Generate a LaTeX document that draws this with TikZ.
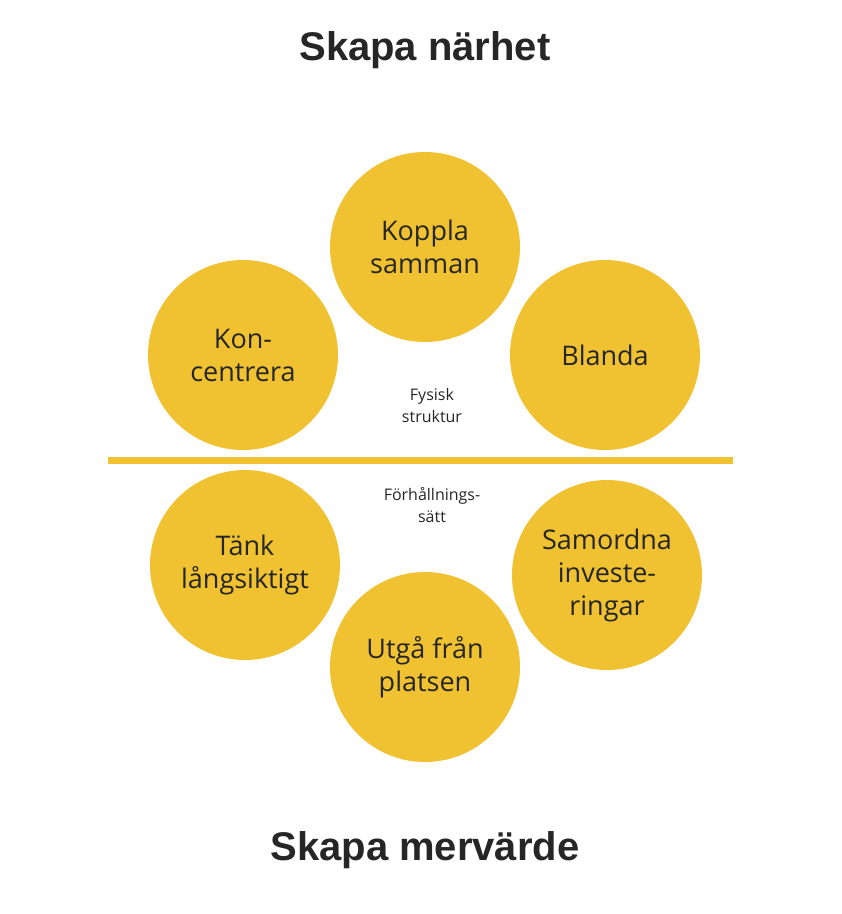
\documentclass[tikz,border=0pt]{standalone}
\usepackage{fontspec}
\setmainfont{Open Sans}
\newfontfamily\titlefont{Liberation Sans}
\definecolor{gold}{HTML}{F0C232}
\begin{document}
\begin{tikzpicture}[x=1pt,y=-1pt,
  circ/.style={circle,fill=gold,minimum size=190pt,inner sep=0pt,align=center,font=\fontsize{27}{33}\selectfont,text=black!85},
  small/.style={align=center,font=\fontsize{16}{22}\selectfont,text=black!85},
  ttl/.style={font=\titlefont\bfseries\fontsize{40}{44}\selectfont,text=black!85}]
\useasboundingbox (0,0) rectangle (842,914);
\node[ttl] (t1) at (425,50) {Skapa närhet};
\node[ttl] (t2) at (425,850) {Skapa mervärde};
\node[circ] (c1) at (425,247) {Koppla\\samman};
\node[circ] (c2) at (243,355) {Kon-\\centrera};
\node[circ] (c3) at (605,355) {Blanda};
\node[circ] (c4) at (245,565) {Tänk\\långsiktigt};
\node[circ] (c5) at (607,575) {Samordna\\investe-\\ringar};
\node[circ] (c6) at (425,667) {Utgå från\\platsen};
\coordinate (l1) at (108,460);
\coordinate (l2) at (733,460);
\draw[gold,line width=7pt] (l1) -- (l2);
\node[small] (f1) at (432,405) {Fysisk\\struktur};
\node[small] (f2) at (432,505) {Förhållnings-\\sätt};
\end{tikzpicture}
\end{document}
